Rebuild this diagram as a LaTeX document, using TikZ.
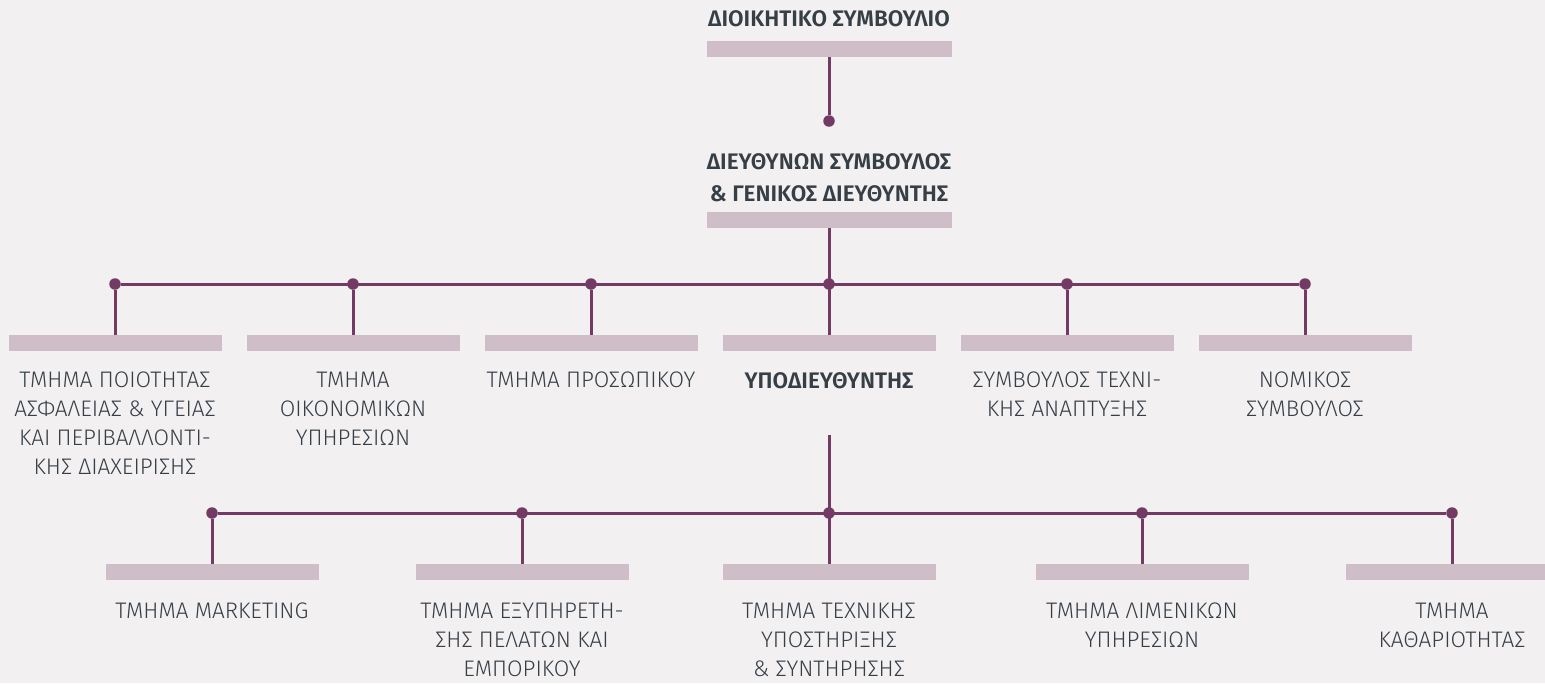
\documentclass[tikz,border=0pt]{standalone}
\usepackage{fontspec}
\setmainfont{Fira Sans}[UprightFont=* Light,BoldFont=* SemiBold]
\definecolor{bgcol}{HTML}{F2F0F1}
\definecolor{barcol}{HTML}{CFBDC7}
\definecolor{linecol}{HTML}{733A63}
\definecolor{textcol}{HTML}{363E46}
\begin{document}
\begin{tikzpicture}[x=1pt,y=-1pt,
	bar/.style={fill=barcol,minimum width=213pt,minimum height=16pt,inner sep=0pt},
	widebar/.style={bar,minimum width=245pt},
	dot/.style={circle,fill=linecol,minimum size=11.5pt,inner sep=0pt},
	link/.style={draw=linecol,line width=3pt},
	lbl/.style={anchor=north,align=center,inner sep=0pt,text=textcol,font=\fontsize{22.5}{29}\selectfont},
	head/.style={lbl,font=\fontsize{22.5}{32}\selectfont\bfseries}]
	\fill[bgcol] (0,0) rectangle (1545,683);
	\useasboundingbox (0,0) rectangle (1545,683);

	% board and ceo
	\draw (829,10) node (boardlbl) [head] {ΔΙΟΙΚΗΤΙΚΟ ΣΥΜΒΟΥΛΙΟ};
	\draw (829,49) node (boardbar) [widebar] {};
	\draw (829,121) node (ceodot) [dot] {};
	\draw (829,153) node (ceolbl) [head] {ΔΙΕΥΘΥΝΩΝ ΣΥΜΒΟΥΛΟΣ\\\& ΓΕΝΙΚΟΣ ΔΙΕΥΘΥΝΤΗΣ};
	\draw (829,220) node (ceobar) [widebar] {};

	% first row
	\draw (115,284) node (d1) [dot] {};
	\draw (353,284) node (d2) [dot] {};
	\draw (591,284) node (d3) [dot] {};
	\draw (829,284) node (d4) [dot] {};
	\draw (1067,284) node (d5) [dot] {};
	\draw (1305,284) node (d6) [dot] {};
	\draw (115,343) node (quality) [bar] {};
	\draw (353,343) node (finance) [bar] {};
	\draw (591,343) node (staff) [bar] {};
	\draw (829,343) node (deputy) [bar] {};
	\draw (1067,343) node (techadv) [bar] {};
	\draw (1305,343) node (legal) [bar] {};
	\draw (115,372) node (qualitylbl) [lbl] {ΤΜΗΜΑ ΠΟΙΟΤΗΤΑΣ\\ΑΣΦΑΛΕΙΑΣ \& ΥΓΕΙΑΣ\\ΚΑΙ ΠΕΡΙΒΑΛΛΟΝΤΙ-\\ΚΗΣ ΔΙΑΧΕΙΡΙΣΗΣ};
	\draw (353,372) node (financelbl) [lbl] {ΤΜΗΜΑ\\ΟΙΚΟΝΟΜΙΚΩΝ\\ΥΠΗΡΕΣΙΩΝ};
	\draw (591,372) node (stafflbl) [lbl] {ΤΜΗΜΑ ΠΡΟΣΩΠΙΚΟΥ};
	\draw (829,372) node (deputylbl) [head] {ΥΠΟΔΙΕΥΘΥΝΤΗΣ};
	\draw (1067,372) node (techadvlbl) [lbl] {ΣΥΜΒΟΥΛΟΣ ΤΕΧΝΙ-\\ΚΗΣ ΑΝΑΠΤΥΞΗΣ};
	\draw (1305,372) node (legallbl) [lbl] {ΝΟΜΙΚΟΣ\\ΣΥΜΒΟΥΛΟΣ};

	% second row
	\coordinate (deputyfoot) at (829,435);
	\draw (212,513) node (e1) [dot] {};
	\draw (522,513) node (e2) [dot] {};
	\draw (829,513) node (e3) [dot] {};
	\draw (1142,513) node (e4) [dot] {};
	\draw (1452,513) node (e5) [dot] {};
	\draw (212,572) node (marketing) [bar] {};
	\draw (522,572) node (service) [bar] {};
	\draw (829,572) node (support) [bar] {};
	\draw (1142,572) node (port) [bar] {};
	\draw (1452,572) node (cleaning) [bar] {};
	\draw (212,603) node (marketinglbl) [lbl] {ΤΜΗΜΑ MARKETING};
	\draw (522,603) node (servicelbl) [lbl] {ΤΜΗΜΑ ΕΞΥΠΗΡΕΤΗ-\\ΣΗΣ ΠΕΛΑΤΩΝ ΚΑΙ\\ΕΜΠΟΡΙΚΟΥ};
	\draw (829,603) node (supportlbl) [lbl] {ΤΜΗΜΑ ΤΕΧΝΙΚΗΣ\\ΥΠΟΣΤΗΡΙΞΗΣ\\\& ΣΥΝΤΗΡΗΣΗΣ};
	\draw (1142,603) node (portlbl) [lbl] {ΤΜΗΜΑ ΛΙΜΕΝΙΚΩΝ\\ΥΠΗΡΕΣΙΩΝ};
	\draw (1452,603) node (cleaninglbl) [lbl] {ΤΜΗΜΑ\\ΚΑΘΑΡΙΟΤΗΤΑΣ};

	% connectors
	\draw[link] (boardbar) -- (ceodot);
	\draw[link] (ceobar) -- (deputy);
	\draw[link] (d1) -- (d6);
	\draw[link] (d1) -- (quality);
	\draw[link] (d2) -- (finance);
	\draw[link] (d3) -- (staff);
	\draw[link] (d5) -- (techadv);
	\draw[link] (d6) -- (legal);
	\draw[link] (deputyfoot) -- (support);
	\draw[link] (e1) -- (e5);
	\draw[link] (e1) -- (marketing);
	\draw[link] (e2) -- (service);
	\draw[link] (e4) -- (port);
	\draw[link] (e5) -- (cleaning);
\end{tikzpicture}
\end{document}
